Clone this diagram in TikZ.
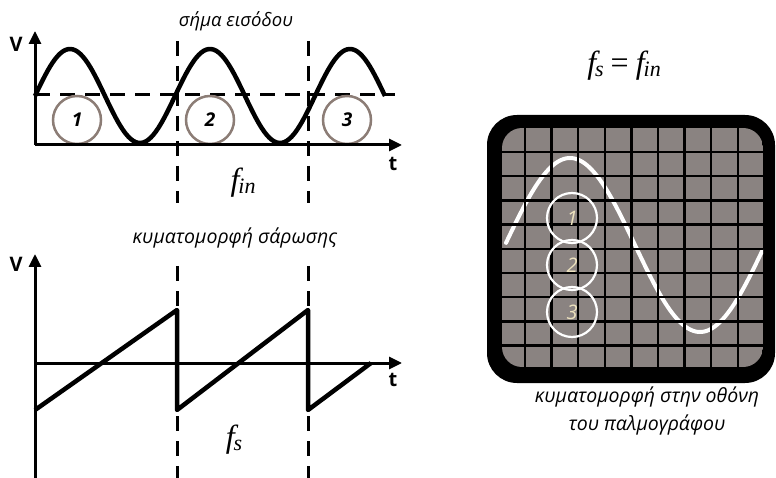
\documentclass[tikz,border=0pt]{standalone}
\usepackage{fontspec}
\setsansfont{Open Sans}
\newfontfamily\tms{Liberation Serif}
\usepackage{tikz}
\usetikzlibrary{arrows.meta}
\definecolor{ringbrown}{HTML}{8C7D76}
\definecolor{scrgray}{HTML}{8A8381}
\definecolor{scrcream}{HTML}{EDE2BE}
\newcommand{\freq}[1]{{\tms\itshape\fontsize{32}{32}\selectfont f\kern-1pt\raisebox{-3pt}{\fontsize{22}{22}\selectfont #1}}}

\begin{document}
\begin{tikzpicture}[x=1pt, y=-1pt,
  axis/.style={line width=3pt, -{Triangle[length=13pt,width=12pt]}},
  wave/.style={line width=4.5pt, line join=round},
  guide/.style={line width=3pt, dash pattern=on 15pt off 10pt},
  axlbl/.style={font=\sffamily\bfseries\fontsize{20}{20}\selectfont},
  title/.style={font=\sffamily\itshape\fontsize{19.5}{28}\selectfont},
  numcirc/.style={circle, draw=ringbrown, line width=2.5pt, minimum size=48pt, inner sep=0pt,
    font=\sffamily\bfseries\itshape\fontsize{19}{19}\selectfont},
  scrcirc/.style={circle, draw=white, line width=2.2pt, minimum size=50pt, inner sep=0pt,
    text=scrcream, font=\sffamily\itshape\fontsize{20}{20}\selectfont}]

  \useasboundingbox (0,0) rectangle (776,478);

  %% input signal
  \node[title, font=\sffamily\itshape\fontsize{18.5}{20}\selectfont] (ttlin) at (236,21) {σήμα εισόδου};
  \draw[guide] (35,95) -- (395,95);
  \foreach \n/\cx in {1/77,2/210,3/347}{
    \node[numcirc] (in\n) at (\cx,120) {\n};
  }
  \draw[wave] plot[domain=35:385, samples=140] (\x, {96-47*cos((\x-70)*18/7)});
  \draw[axis] (35,145) -- (402,145);
  \draw[axis] (35,145) -- (35,31);
  \node[axlbl] (vin) at (16,44) {V};
  \node[axlbl] (tin) at (393,164) {t};
  \node (fin) at (243,183) {\freq{in}};

  %% sweep
  \node[title] (ttlsw) at (235,238) {κυματομορφή σάρωσης};
  \draw[axis] (35,363) -- (402,363);
  \draw[axis] (35,478) -- (35,254);
  \node[axlbl] (vsw) at (16,264) {V};
  \node[axlbl] (tsw) at (393,380) {t};
  \draw[wave, line cap=butt] (35,410) -- (177,310) -- (177,410) -- (308,310) -- (308,410) -- (371,363);
  \node (fs) at (234,440) {\freq{s}};

  %% dashed markers
  \foreach \gx in {177,308}{
    \draw[guide] (\gx,41) -- (\gx,203);
    \draw[guide] (\gx,266) -- (\gx,478);
  }

  %% result
  \node (feq) at (624,66) {\freq{s}\hspace{7pt}{\tms\fontsize{32}{32}\selectfont =}\hspace{7pt}\freq{in}};

  %% screen
  \fill[black, rounded corners=30pt] (487,115) rectangle (775,383);
  \begin{scope}
    \clip[rounded corners=20pt] (502,128) rectangle (763,367);
    \fill[scrgray] (502,128) rectangle (763,367);
    \draw[white, line width=4pt, line cap=round]
      plot[domain=506:762, samples=120] (\x, {245-87*cos((\x-570)*18/13)});
    \foreach \k in {0,...,8}{
      \draw[black, line width=2.5pt] ({525+26.6*\k},128) -- ({525+26.6*\k},367);
      \draw[black, line width=2.5pt] (502,{152+24.2*\k}) -- (763,{152+24.2*\k});
    }
  \end{scope}
  \foreach \n/\cy in {1/218,2/265,3/312}{
    \node[scrcirc] (scr\n) at (572,\cy) {\n};
  }
  \node[title, align=center] (cap) at (647,411) {κυματομορφή στην οθόνη\\του παλμογράφου};

\end{tikzpicture}
\end{document}
